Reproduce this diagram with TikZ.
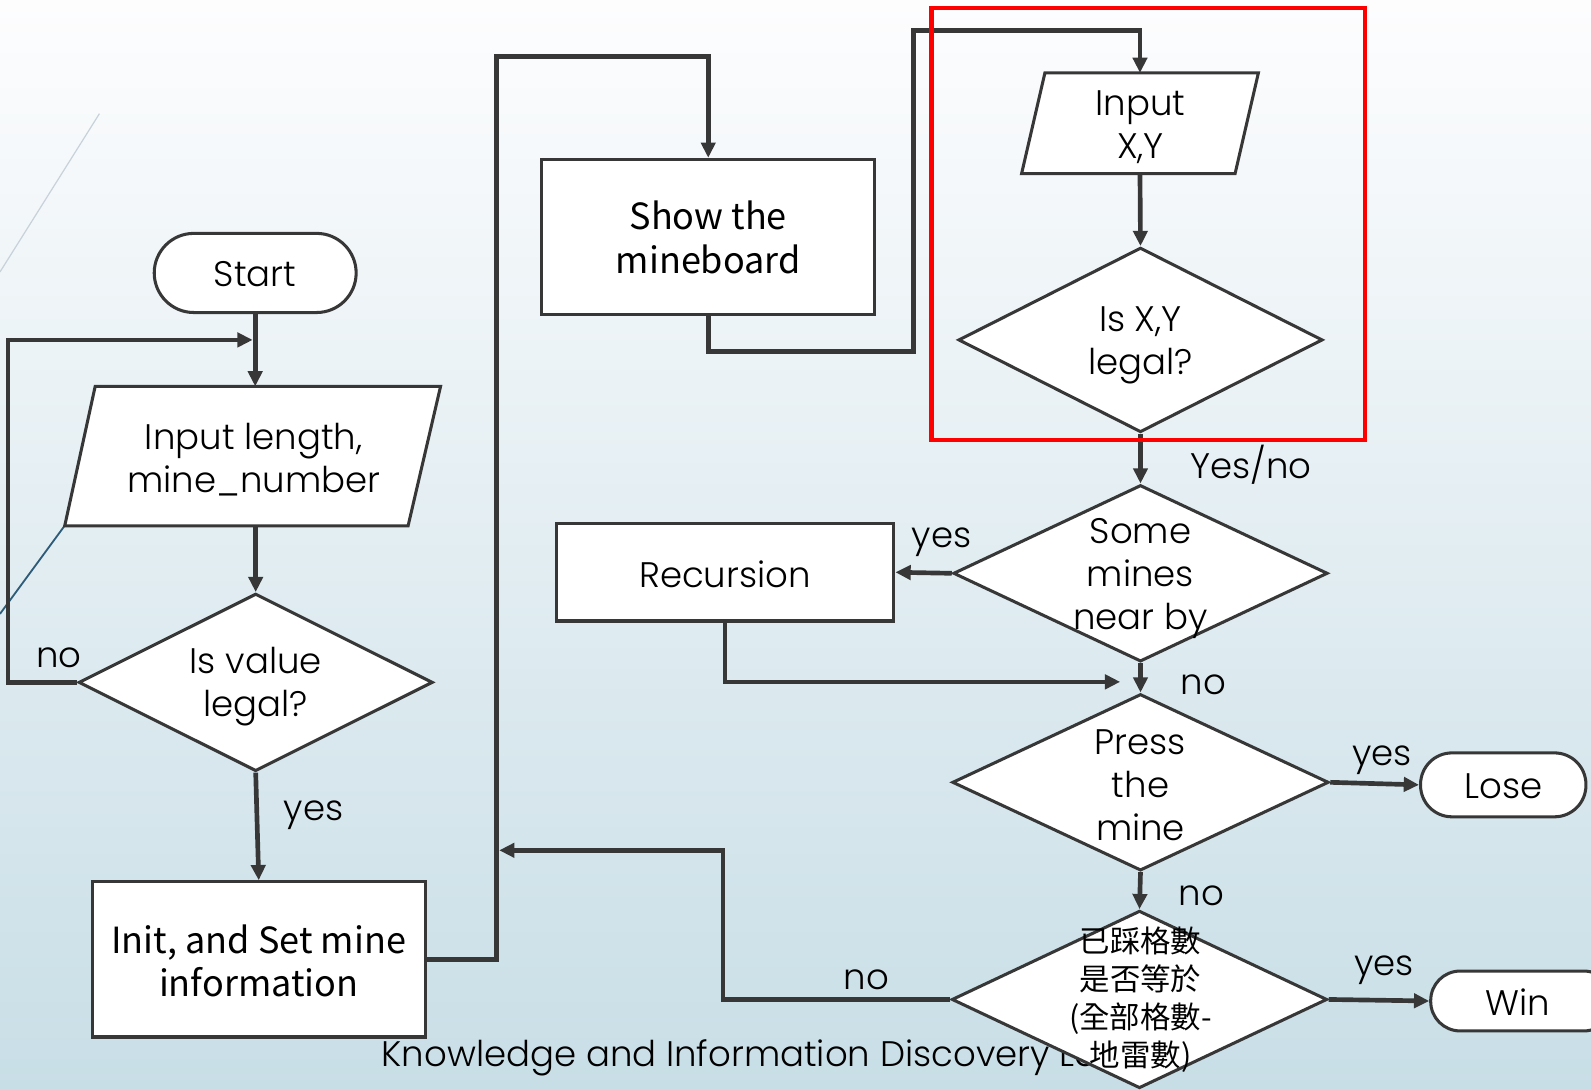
\documentclass[tikz,border=0pt]{standalone}
\usepackage{fontspec}
\setmainfont{Poppins Light}
\newfontfamily\cjk{Noto Sans CJK TC}
\usetikzlibrary{shapes.geometric,arrows.meta}
\definecolor{dk}{RGB}{55,55,55}
\definecolor{bgtop}{RGB}{253,253,254}
\definecolor{bgbot}{RGB}{200,222,230}
\definecolor{decogray}{RGB}{200,210,218}
\definecolor{decoblue}{RGB}{46,92,120}
\begin{document}
\begin{tikzpicture}[x=1pt,y=-1pt,
  conn/.style={draw=dk,line width=4.6pt,-{Triangle[length=15pt,width=14pt]}},
  shp/.style={draw=dk,line width=3pt,fill=white,line join=miter},
  box/.style={shp,rectangle,inner sep=0pt},
  dia/.style={shp,diamond,inner sep=0pt},
  term/.style={shp,rectangle,inner sep=0pt},
  ghost/.style={rectangle,inner sep=0pt},
  txt/.style={align=center,font=\fontsize{35}{42.5}\selectfont,inner sep=0pt,text=black},
  hum/.style={align=center,font=\cjk\fontsize{35.5}{42.5}\selectfont,inner sep=0pt,text=black},
  cjktxt/.style={align=center,font=\cjk\fontsize{30}{37.3}\selectfont,inner sep=0pt,text=black},
  lbl/.style={font=\fontsize{35}{42}\selectfont,inner sep=0pt,text=black},
]
\path[use as bounding box] (0,0) rectangle (1568,1074);
\clip (0,0) rectangle (1568,1074);
\shade[top color=bgtop,bottom color=bgbot] (0,0) rectangle (1568,1074);
% decorative slide lines
\draw[decogray,line width=1.2pt] (98,112) -- (0,268);
\draw[decoblue,line width=1.8pt] (66,515) -- (0,605);

% left column
\node[term,rounded corners=39pt,minimum width=199pt,minimum height=78pt] (start) at (251.5,269) {};
\node[txt] (startt) at (251.5,270) {Start};

\node[ghost,minimum width=370pt,minimum height=137pt] (inp1) at (249,449.5) {};
\draw[shp] ([xshift=30pt]inp1.north west) -- (inp1.north east) -- ([xshift=-32pt]inp1.south east) -- (inp1.south west) -- cycle;
\node[txt] (inp1t) at (250,453) {Input length,\\mine\_number};

\node[dia,minimum width=349pt,minimum height=175pt] (val) at (252,672.5) {};
\node[txt] (valt) at (252,677) {Is value\\legal?};

\node[box,minimum width=328pt,minimum height=153pt] (init) at (255,945.5) {};
\node[hum] (initt) at (255,947) {Init, and Set mine\\information};

% footer (slide text, under the diagram on the right)
\node[lbl,anchor=west] (footer) at (376,1043) {Knowledge and Information Discovery Lab};

% middle column
\node[box,minimum width=328pt,minimum height=153pt] (show) at (698,233.5) {};
\node[hum] (showt) at (698,234) {Show the\\mineboard};

\node[box,minimum width=333pt,minimum height=96pt] (rec) at (714.5,564) {};
\node[txt] (rect) at (714.5,566) {Recursion};

% right column
\node[ghost,minimum width=233pt,minimum height=99pt] (inp2) at (1123.5,121.5) {};
\draw[shp] ([xshift=23pt]inp2.north west) -- (inp2.north east) -- ([xshift=-23pt]inp2.south east) -- (inp2.south west) -- cycle;
\node[txt] (inp2t) at (1124,125) {Input\\X,Y};

\node[dia,minimum width=359pt,minimum height=182pt] (legal) at (1124,335) {};
\node[txt] (legalt) at (1124,340) {Is X,Y\\legal?};

\node[dia,minimum width=369pt,minimum height=174pt] (some) at (1124,565) {};
\node[txt] (somet) at (1124,570) {Some\\mines\\near by};

\node[dia,minimum width=371pt,minimum height=174pt] (press) at (1124,771) {};
\node[txt] (presst) at (1124,774) {Press\\the\\mine};

\node[dia,minimum width=370pt,minimum height=175pt] (cjkd) at (1123,985) {};

\node[term,rounded corners=31pt,minimum width=163pt,minimum height=63pt] (lose) at (1481.5,773.5) {};
\node[txt] (loset) at (1482,775) {Lose};

\node[term,rounded corners=29pt,minimum width=180pt,minimum height=59pt] (win) at (1500,986.5) {};
\node[txt] (wint) at (1496,988) {Win};

% connector end points
\coordinate (loopend) at (249,335);
\coordinate (recend) at (1104,672);
\coordinate (backend) at (492,838);

% connectors
\draw[conn] (start.south) -- (start.south |- inp1.north);
\draw[conn] (val.west) -- ++(-68,0) |- (loopend);
\draw[conn] (val.north |- inp1.south) -- (val.north);
\draw[conn] (val.south) -- (init.north);
\draw[conn] (init.east) -- ++(69,0) |- ([yshift=100pt]show.north) -- (show.north);
\draw[conn] (show.south) -- ++(0,35) -- ++(202,0) |- ([yshift=42pt]inp2.north) -- (inp2.north);
\draw[conn] (inp2.south) -- (legal.north);
\draw[conn] (legal.south) -- (some.north);
\draw[conn] (some.west) -- (rec.east);
\draw[conn] (rec.south) |- (recend);
\draw[conn] (some.south) -- (press.north);
\draw[conn] (press.east) -- (lose.west);
\draw[conn] (press.south) -- (cjkd.north);
\draw[conn] (cjkd.east) -- (win.west);
\draw[conn] (cjkd.west) -- ++(-224,0) |- (backend);

% labels
\node[lbl] (l1) at (58,648) {no};
\node[lbl] (l2) at (309,803) {yes};
\node[lbl] (l3) at (928,534) {yes};
\node[lbl] (l4) at (1233,458) {Yes/no};
\node[lbl] (l5) at (1186,675) {no};
\node[lbl] (l6) at (1362,749) {yes};
\node[lbl] (l7) at (1184,883) {no};
\node[lbl] (l8) at (1364,956) {yes};
\node[lbl] (l9) at (854,966) {no};

% red highlight
\draw[red,line width=4pt] (918,8) rectangle (1345,434);

\node[cjktxt] (cjkt) at (1124,985) {已踩格數\\是否等於\\(全部格數-\\地雷數)};
\end{tikzpicture}
\end{document}
